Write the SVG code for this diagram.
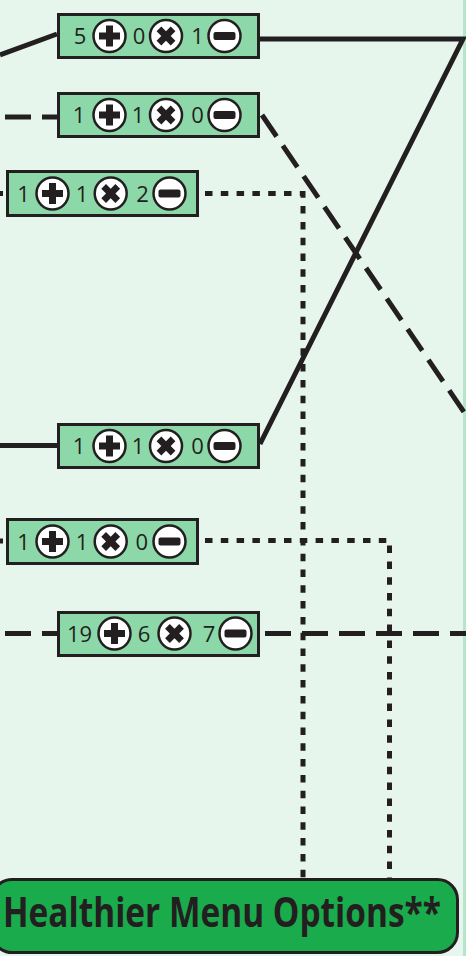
<svg xmlns="http://www.w3.org/2000/svg" xmlns:xlink="http://www.w3.org/1999/xlink" width="466" height="956" viewBox="0 0 466 956">
  <style>
    .bg { fill: #e6f6ed; }
    .strip { fill: #b4e6cb; }
    .box { fill: #8cd8a8; stroke: #231f20; stroke-width: 3; }
    .num { font-family: "Open Sans", "Liberation Sans", sans-serif; font-size: 22px; fill: #231f20; text-anchor: middle; }
    .ring { fill: #ffffff; stroke: #231f20; stroke-width: 2.5; }
    .glyph { fill: #231f20; }
    .solid { fill: none; stroke: #231f20; stroke-width: 5; }
    .dash { fill: none; stroke: #231f20; stroke-width: 5; stroke-dasharray: 26 11; }
    .dot { fill: none; stroke: #231f20; stroke-width: 5; stroke-dasharray: 7.5 8.3; }
    .btn { fill: #1aac4c; stroke: #231f20; stroke-width: 3; }
    .btn-label { font-family: "Open Sans", "Liberation Sans", sans-serif; font-weight: bold; font-size: 41px; fill: #231f20; }
  </style>
  <defs>
    <path id="cross" d="M-3.5 -10.5h7v7h7v7h-7v7h-7v-7h-7v-7h7z"/>
    <g id="ic-plus">
      <circle r="16" class="ring"/>
      <use xlink:href="#cross" class="glyph"/>
    </g>
    <g id="ic-times">
      <circle r="16" class="ring"/>
      <use xlink:href="#cross" class="glyph" transform="rotate(45) scale(0.95)"/>
    </g>
    <g id="ic-minus">
      <circle r="16" class="ring"/>
      <rect x="-11" y="-4" width="22" height="8" rx="2" class="glyph"/>
    </g>
  </defs>

  <rect class="bg" x="0" y="0" width="466" height="956"/>
  <rect class="strip" x="463" y="0" width="3" height="956"/>

  <g id="connectors">
    <!-- solid: top row out to the right edge, then back down to the fourth row -->
    <path class="solid" d="M0 55 L57 34"/>
    <path class="solid" d="M260 39 H463 L260 444"/>
    <path class="solid" d="M0 445.5 H57"/>
    <!-- dashed: second row and its diagonal -->
    <path class="dash" d="M5 117 H57"/>
    <path class="dash" d="M262 115 L468 418"/>
    <!-- dashed: sixth row straight across -->
    <path class="dash" d="M5 633.5 H57"/>
    <path class="dash" d="M265 633.5 H470"/>
    <!-- dotted: third and fifth rows dropping into the button -->
    <path class="dot" d="M-4.5 193.5 H6"/>
    <path class="dot" d="M205 193.5 H303 V878"/>
    <path class="dot" d="M-4.5 541 H6"/>
    <path class="dot" d="M205 540.5 H389.5 V878"/>
  </g>

  <g id="node-1">
    <rect class="box" x="58.5" y="14.5" width="200" height="43"/>
    <text class="num" x="80" y="44">5</text>
    <use xlink:href="#ic-plus" x="109.5" y="36"/>
    <text class="num" x="139" y="44">0</text>
    <use xlink:href="#ic-times" x="166" y="36"/>
    <text class="num" x="197.5" y="44">1</text>
    <use xlink:href="#ic-minus" x="224.5" y="36"/>
  </g>

  <g id="node-2">
    <rect class="box" x="58.5" y="93.5" width="200" height="43"/>
    <text class="num" x="79" y="123">1</text>
    <use xlink:href="#ic-plus" x="109.5" y="115"/>
    <text class="num" x="138" y="123">1</text>
    <use xlink:href="#ic-times" x="166" y="115"/>
    <text class="num" x="197.5" y="123">0</text>
    <use xlink:href="#ic-minus" x="224.5" y="115"/>
  </g>

  <g id="node-3">
    <rect class="box" x="7.5" y="171.5" width="190" height="44"/>
    <text class="num" x="23.5" y="201.5">1</text>
    <use xlink:href="#ic-plus" x="52.5" y="193.5"/>
    <text class="num" x="82" y="201.5">1</text>
    <use xlink:href="#ic-times" x="110.7" y="193.5"/>
    <text class="num" x="142.5" y="201.5">2</text>
    <use xlink:href="#ic-minus" x="169.5" y="193.5"/>
  </g>

  <g id="node-4">
    <rect class="box" x="58.5" y="424.5" width="200" height="43"/>
    <text class="num" x="79" y="454">1</text>
    <use xlink:href="#ic-plus" x="109.5" y="446"/>
    <text class="num" x="138" y="454">1</text>
    <use xlink:href="#ic-times" x="166" y="446"/>
    <text class="num" x="197.5" y="454">0</text>
    <use xlink:href="#ic-minus" x="224.5" y="446"/>
  </g>

  <g id="node-5">
    <rect class="box" x="7.5" y="519.5" width="190" height="44"/>
    <text class="num" x="23.5" y="549.5">1</text>
    <use xlink:href="#ic-plus" x="52.5" y="541.5"/>
    <text class="num" x="82" y="549.5">1</text>
    <use xlink:href="#ic-times" x="110.7" y="541.5"/>
    <text class="num" x="141.7" y="549.5">0</text>
    <use xlink:href="#ic-minus" x="169.5" y="541.5"/>
  </g>

  <g id="node-6">
    <rect class="box" x="58.5" y="612.5" width="200" height="43"/>
    <text class="num" x="79.5" y="641.5">19</text>
    <use xlink:href="#ic-plus" x="114.5" y="633.5"/>
    <text class="num" x="144" y="641.5">6</text>
    <use xlink:href="#ic-times" x="174.5" y="633.5"/>
    <text class="num" x="209" y="641.5">7</text>
    <use xlink:href="#ic-minus" x="235.5" y="633.5"/>
  </g>

  <g id="node-healthier">
    <rect class="btn" x="-8" y="879.5" width="465.5" height="73" rx="20"/>
    <text class="btn-label" x="3" y="927" textLength="438" lengthAdjust="spacingAndGlyphs">Healthier Menu Options**</text>
  </g>
</svg>
